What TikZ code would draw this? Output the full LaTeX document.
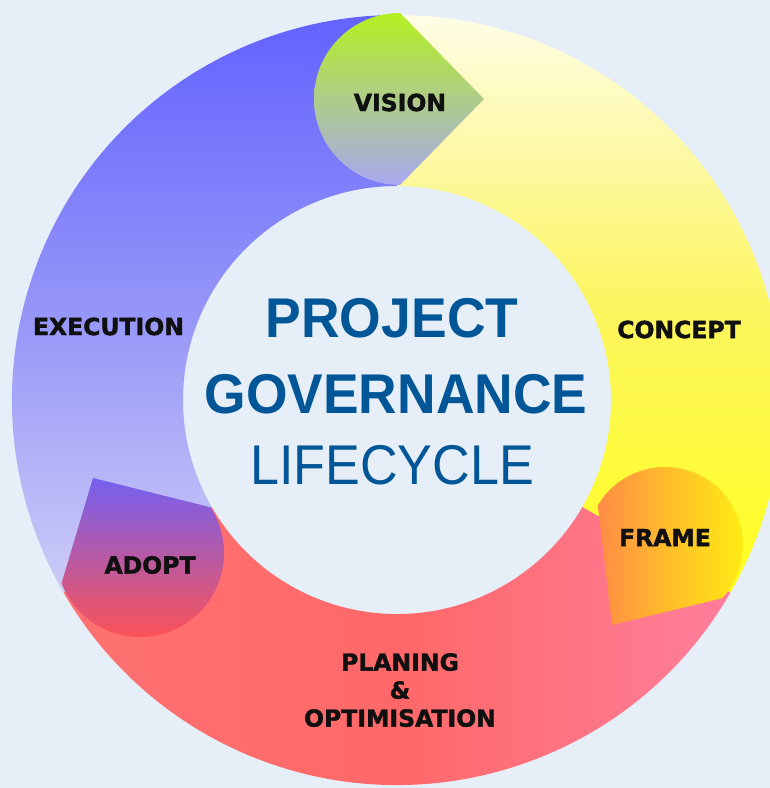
\documentclass[tikz,border=0pt]{standalone}
\usepackage{fontspec}
\setmainfont{Liberation Sans}
\newfontface\labelfont[FakeBold=1.6]{DejaVu Sans Bold}
\usetikzlibrary{calc}
\definecolor{bg}{HTML}{E6EEF7}
\definecolor{titlec}{RGB}{0,86,150}
\definecolor{labelc}{HTML}{101010}
\definecolor{blueA}{HTML}{6262FF}
\definecolor{blueM}{HTML}{9494F8}
\definecolor{blueB}{HTML}{CCCCF8}
\definecolor{yelA}{HTML}{FFFDE6}
\definecolor{yelM}{HTML}{FCF560}
\definecolor{yelB}{HTML}{FFFF20}
\definecolor{redA}{HTML}{FF7272}
\definecolor{redM}{HTML}{FF6868}
\definecolor{redB}{HTML}{FF7E9C}
\begin{document}
\begin{tikzpicture}[x=1pt,y=-1pt,
  lbl/.style={font=\labelfont\fontsize{23.5}{28}\selectfont, text=labelc, align=center, inner sep=0pt},
  ttl/.style={text=titlec, inner sep=0pt, anchor=base}]
\useasboundingbox (0,0) rectangle (770,788);
\clip (0,0) rectangle (770,788);
\fill[bg] (0,0) rectangle (770,788);
\coordinate (O) at (397,400);
% ring segments
\path[top color=blueA, bottom color=blueB, middle color=blueM]
  ($(O)+(150:385)$) arc[start angle=150, end angle=270, radius=385]
  -- ($(O)+(270:214)$) arc[start angle=270, end angle=150, radius=214] -- cycle;
\path[top color=yelA, bottom color=yelB, middle color=yelM]
  ($(O)+(-90:385)$) arc[start angle=-90, end angle=30, radius=385]
  -- ($(O)+(30:214)$) arc[start angle=30, end angle=-90, radius=214] -- cycle;
\path[left color=redA, right color=redB, middle color=redM]
  ($(O)+(30:385)$) arc[start angle=30, end angle=150, radius=385]
  -- ($(O)+(150:214)$) arc[start angle=150, end angle=30, radius=214] -- cycle;
% pointed discs
\coordinate (cV) at (400,99);
\path[top color={rgb,255:red,180;green,240;blue,32}, middle color={rgb,255:red,164;green,186;blue,160}, bottom color={rgb,255:red,168;green,168;blue,240}]
  ($(cV)+(270:86)$) arc[start angle=270, end angle=90, radius=86] -- (484,99) -- cycle;
\coordinate (cF) at (665,545);
\path[left color={rgb,255:red,255;green,140;blue,70}, right color={rgb,255:red,255;green,236;blue,20}, middle color={rgb,255:red,255;green,190;blue,40}]
  ($(cF)+(210.5:78)$) arc[start angle=210.5, end angle=403, radius=78] -- (612,625) -- cycle;
\coordinate (cA) at (140,553);
\path[top color={rgb,255:red,116;green,96;blue,240}, middle color={rgb,255:red,200;green,80;blue,144}, bottom color={rgb,255:red,255;green,82;blue,82}]
  ($(cA)+(-33:84)$) arc[start angle=-33, end angle=159, radius=84] -- (93,478) -- cycle;
% labels
\node[lbl] (vision) at (400,102.5) {VISION};
\node[lbl] (concept) at (679,329.5) {CONCEPT};
\node[lbl] (frame) at (665,537.5) {FRAME};
\node[lbl, anchor=north] (planing) at (400,653) {PLANING\\\&\\OPTIMISATION};
\node[lbl] (adopt) at (150,565) {ADOPT};
\node[lbl] (execution) at (108.5,326.5) {EXECUTION};
% title
\node[ttl] (project) at (392,337) {\fontsize{56}{56}\selectfont\bfseries\scalebox{0.955}[1]{PROJECT}};
\node[ttl] (governance) at (396,413) {\fontsize{56}{56}\selectfont\bfseries\scalebox{0.953}[1]{GOVERNANCE}};
\node[ttl] (lifecycle) at (392,484) {\fontsize{56}{56}\selectfont\scalebox{0.93}[1]{LIFECYCLE}};
\end{tikzpicture}
\end{document}
